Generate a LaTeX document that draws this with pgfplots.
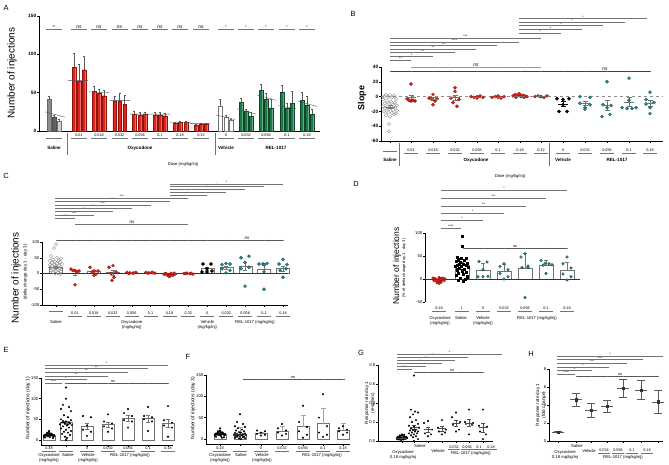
\documentclass[border=0pt]{standalone}
\usepackage{fontspec}
\setmainfont{Liberation Sans}
\usepackage{pgfplots}
\pgfplotsset{compat=1.18}

\definecolor{oxred}{RGB}{226,35,26}
\definecolor{oxredd}{RGB}{140,20,15}
\definecolor{relg}{RGB}{28,122,72}
\definecolor{relgd}{RGB}{15,70,40}
\definecolor{tealc}{RGB}{38,140,140}
\definecolor{teald}{RGB}{20,90,90}

\newcommand{\fs}[1]{\fontsize{#1}{#1}\selectfont}
% significance bracket: y, x1, x2, text (pixel coordinates, y downwards)
\newcommand{\sig}[4]{\draw[sigl] (#2,#1) -- (#3,#1); \node[sigt] at ({(#2+#3)/2},#1-0.2) {#4};}

\tikzset{
  px/.style={x=1bp, y=-1bp, yshift=465bp},
  lab/.style={inner sep=0pt, font=\fs{3.8}},
  glab/.style={inner sep=0pt, font=\fs{4.2}},
  sigl/.style={draw=black!55, line width=0.35bp},
  sigt/.style={inner sep=0pt, anchor=south, font=\fs{3.6}},
  ull/.style={draw=black!55, line width=0.35bp},
  sep/.style={draw=black!55, line width=0.4bp},
  ylab/.style={inner sep=0pt, rotate=90},
  plet/.style={inner sep=0pt, font=\fs{7.5}},
}

\pgfplotsset{
  pan/.style={scale only axis, clip=false, enlargelimits=false, anchor=south west,
    axis x line*=bottom, axis y line*=left, axis line style={line width=0.45bp,-},
    every tick/.style={line width=0.4bp, black}, major tick length=1.8bp, tick align=outside,
    tick label style={font=\fs{4.2}, inner sep=0.8bp},
    /pgf/number format/assume math mode=true, xticklabels={}},
  bA/.style={ybar, bar shift=0pt, bar width=3.4, line width=0.3bp,
    error bars/y dir=plus, error bars/y explicit,
    error bars/error bar style={line width=0.35bp, black!65},
    error bars/error mark options={rotate=90, black!65, mark size=1bp, line width=0.35bp}},
  bW/.style={ybar, bar shift=0pt, fill=white, draw=black!55, line width=0.4bp,
    error bars/y dir=both, error bars/y explicit,
    error bars/error bar style={line width=0.4bp, black!55},
    error bars/error mark options={rotate=90, black!55, mark size=2bp, line width=0.4bp}},
  bWp/.style={bW, error bars/y dir=plus},
  mn/.style={only marks, mark=-, mark size=5bp, mark options={line width=0.5bp},
    error bars/y dir=both, error bars/y explicit,
    error bars/error bar style={line width=0.5bp},
    error bars/error mark options={rotate=90, mark size=2.5bp, line width=0.5bp}},
  pO/.style={only marks, mark=o, mark size=1.7bp, mark options={draw=black!45, line width=0.35bp, fill=white}},
  pR/.style={only marks, mark=*, mark size=1.6bp, mark options={fill=oxred, draw=oxredd, line width=0.3bp}},
  pK/.style={only marks, mark=*, mark size=1.6bp, mark options={fill=black, draw=black}},
  pT/.style={only marks, mark=*, mark size=1.6bp, mark options={fill=tealc, draw=teald, line width=0.3bp}},
  pk/.style={only marks, mark=*, mark size=0.8bp, mark options={fill=black, draw=black}},
}

\begin{document}
\begin{tikzpicture}
\fill[white] (0,0) rectangle (669bp,465bp);
\path[use as bounding box] (0,0) rectangle (669bp,465bp);

% ================= A =================
\begin{axis}[pan, at={(39bp,334bp)}, width=281bp, height=115bp, xmin=39, xmax=320,
  ymin=0, ymax=150, ytick={0,50,100,150}, xtick=\empty,
  yticklabel style={font=\bfseries\fs{4.8}}]
\addplot[bA, fill=black!45, draw=black!60] coordinates {(49,41) +- (0,5)};
\addplot[bA, fill=black!62, draw=black!70] coordinates {(54,18) +- (0,2)};
\addplot[bA, fill=black!18, draw=black!55] coordinates {(59,13) +- (0,2)};
\addplot[bA, fill=oxred, draw=oxredd] coordinates {
  (74,83) +- (0,18) (94,52) +- (0,6) (114.5,39) +- (0,6) (134,22) +- (0,4)
  (155,21) +- (0,3) (175,10) +- (0,1.5) (196,8) +- (0,1.5)};
\addplot[bA, fill=oxred, draw=oxredd] coordinates {
  (79,65) +- (0,22) (99,49) +- (0,6) (119.5,39) +- (0,10) (140,21) +- (0,3)
  (160,21) +- (0,3) (180,11) +- (0,1.5) (201,9) +- (0,1.5)};
\addplot[bA, fill=oxred, draw=oxredd] coordinates {
  (84,80) +- (0,17) (104,46) +- (0,7) (124.5,35) +- (0,12) (145,22) +- (0,3)
  (165,20) +- (0,3) (186,11) +- (0,1.5) (206,9) +- (0,1.5)};
\addplot[bA, fill=white, draw=black!55] coordinates {(220,33) +- (0,8) (226,18) +- (0,2) (231,14) +- (0,2)};
\addplot[bA, fill=relg, draw=relgd] coordinates {(241,37) +- (0,6) (261,53) +- (0,8) (282,51) +- (0,9) (302,40) +- (0,10)};
\addplot[bA, fill=relg, draw=relgd] coordinates {(246,26) +- (0,2) (266,42) +- (0,7) (287,30) +- (0,6) (307,34) +- (0,12)};
\addplot[bA, fill=relg, draw=relgd] coordinates {(251,19) +- (0,5) (271,30) +- (0,11) (292,36) +- (0,16) (312,22) +- (0,6)};
% per-group trend lines
\addplot[black!70, line width=0.35bp, unbounded coords=jump] coordinates {
  (45,25) (65,18) (65,nan) (68,66) (88,66) (88,nan) (89,51) (109,50) (109,nan)
  (110,40) (130,40) (130,nan) (130,22) (150,22) (150,nan) (150,22) (170,22) (170,nan)
  (170,11) (191,11) (191,nan) (190,10) (210,10) (210,nan) (216,21) (235,15) (235,nan)
  (237,29) (256,22) (256,nan) (257,47) (276,40) (276,nan) (278,33) (296,29) (296,nan)
  (298,39) (317,32)};
\end{axis}
\begin{scope}[px]
\node[plet] at (6,8) {A};
\node[ylab, font=\fs{10}] at (12,73) {Number of injections};
\foreach \x/\t in {54/{**}, 226/{*}, 246/{*}, 266/{*}, 287/{*}, 307/{*}}
  {\node[sigt, font=\fs{4}] at (\x,28.5) {\t}; \draw[sigl] (\x-8,29) -- (\x+8,29);}
\foreach \x in {79,99,119.5,140,160,180,201}
  {\node[sigt, font=\itshape\fs{5}] at (\x,28.5) {ns}; \draw[sigl] (\x-8,29) -- (\x+8,29);}
\foreach \x/\t in {79/0.01, 99/0.018, 119.5/0.032, 140/0.056, 160/0.1, 180/0.18, 201/0.32,
  226/0, 246/0.032, 266/0.056, 287/0.1, 307/0.18}
  {\node[lab] at (\x,135) {\t}; \draw[ull] (\x-8,138) -- (\x+8,138);}
\draw[ull] (46,138) -- (62,138);
\draw[sep] (67,133) -- (67,155);
\draw[sep] (215,133) -- (215,155);
\node[glab, font=\bfseries\fs{4.6}] at (54,148) {Saline};
\node[glab, font=\bfseries\fs{4.6}] at (140,148) {Oxycodone};
\node[glab, font=\bfseries\fs{4.6}] at (226,148) {Vehicle};
\node[glab, font=\bfseries\fs{4.6}] at (276,148) {REL-1017};
\node[glab] at (183,164) {Dose (mg/kg/inj)};
\end{scope}

% ================= B =================
\begin{axis}[pan, at={(381bp,324bp)}, width=282bp, height=74bp, xmin=381, xmax=663,
  ymin=-60, ymax=40, ytick={-60,-40,-20,0,20,40},
  xtick={390,411,433,455,477,498,520,541,563,585,607,629,650},
  yticklabel style={font=\bfseries\fs{4.8}}]
\draw[black!45, dashed, line width=0.35bp] (axis cs:381,0) -- (axis cs:663,0);
\addplot[pO] coordinates {
  (386,2.5) (390,2) (394,1) (384,0) (388,-0.5) (392,-1) (396,-3) (383,-4) (387,-6) (391,-7)
  (395,-8) (385,-9) (389,-10) (393,-11) (397,-12) (383,-13) (387,-14) (391,-14) (395,-15)
  (385,-16) (389,-17) (393,-18) (397,-19) (384,-20) (388,-21) (392,-22) (396,-23) (386,-25)
  (390,-27) (394,-24) (389,-37) (389,-47)};
\addplot[pR] coordinates {
  (407,-3) (411,-6) (415,-6) (409,-5) (413,-5) (411,17)
  (433,3) (429,-2) (437,-3) (431,-3) (435,-6) (433,-11)
  (455,12) (455,7) (451,-2) (459,-4) (453,-8) (457,-13)
  (471,0) (474,-1) (477,-2) (480,1) (483,-1) (477,0)
  (492,-1) (495,0) (498,1) (501,-2) (504,0) (498,-1)
  (513,1) (515,3) (517,2) (519,4) (521,0) (523,2) (525,1) (527,0) (516,-1) (520,1) (524,-1) (520,3)
  (535,0) (538,1) (541,0) (544,-1) (547,1) (541,0)};
\addplot[pK] coordinates {(557,-3) (563,-4) (569,-3) (563,-11) (559,-20) (567,-20)};
\addplot[pT] coordinates {
  (580,0) (590,-1) (580,-9) (590,-11) (585,-15) (585,-17)
  (607,20) (603,-11) (611,-12) (607,-15) (602,-27) (610,-24)
  (629,25) (629,-5) (622,-15) (627,-16) (632,-16) (636,-15)
  (650,6) (646,-4) (654,-8) (646,-10) (650,-15) (650,-23)};
\addplot[mn, black!55] coordinates {
  (390,-14) +- (0,2) (411,-1.5) +- (0,3.8) (433,-3.5) +- (0,2) (455,-1.5) +- (0,3.8)
  (477,-0.5) +- (0,0.5) (498,-0.5) +- (0,0.5) (520,1) +- (0,0.5) (541,0) +- (0,0.3)
  (585,-9) +- (0,2.7) (607,-11.5) +- (0,6.5) (629,-7) +- (0,6.5) (650,-9) +- (0,4)};
\addplot[mn, black] coordinates {(563,-10) +- (0,3.2)};
\end{axis}
\begin{scope}[px]
\node[plet] at (353,14) {B};
\node[ylab, font=\bfseries\fs{9}] at (362,98) {Slope};
\sig{60}{390}{411}{**} \sig{56.5}{390}{433}{*} \sig{52.5}{390}{455}{**}
\sig{49}{390}{476}{**} \sig{45.5}{390}{497}{**} \sig{42}{390}{519}{****}
\sig{38}{390}{541}{***}
\sig{33}{519}{561}{*} \sig{29.5}{519}{582}{*} \sig{25.5}{519}{603}{*}
\sig{22}{519}{625}{*} \sig{18.5}{519}{647}{*}
\draw[black!75, line width=0.4bp] (390,71) -- (650,71);
\foreach \x in {390,411,433,455,477,498,520,541,563,585,607,629,650} {\draw[black!60, line width=0.3bp] (\x,71) -- (\x,72.5);}
\draw[black!40, line width=0.35bp] (411,67.5) -- (541,67.5);
\node[sigt, font=\itshape\fs{5}] at (476,66.8) {ns};
\node[sigt, font=\itshape\fs{5}] at (605,70.3) {ns};
\foreach \x/\t in {411/0.01, 433/0.018, 455/0.032, 477/0.056, 498/0.1, 520/0.18, 541/0.32,
  563/0, 585/0.032, 607/0.056, 629/0.1, 650/0.18}
  {\node[lab] at (\x,150) {\t}; \draw[ull] (\x-7,152.8) -- (\x+7,152.8);}
\draw[ull] (383,151.5) -- (397,151.5);
\draw[sep] (399,143) -- (399,166);
\draw[sep] (549,143) -- (549,166);
\node[glab, font=\bfseries\fs{4.6}] at (390,160) {Saline};
\node[glab, font=\bfseries\fs{4.6}] at (476,160) {Oxycodone};
\node[glab, font=\bfseries\fs{4.6}] at (563,160) {Vehicle};
\node[glab, font=\bfseries\fs{4.6}] at (617,160) {REL-1017};
\node[glab] at (510,176) {Dose (mg/kg/inj)};
\end{scope}

% ================= C =================
\begin{axis}[pan, at={(42bp,160bp)}, width=246bp, height=63bp, xmin=42, xmax=288,
  ymin=-100, ymax=100, ytick={-100,-50,0,50,100},
  xtick={56,74.9,93.8,112.8,131.7,150.6,169.5,188.4,207.3,226.3,245.2,264.1,283}]
\addplot[bW, bar width=13] coordinates {
  (56,20) +- (0,3) (74.9,2) +- (0,7) (93.8,6) +- (0,4) (112.8,3) +- (0,7)
  (131.7,2) +- (0,0.5) (150.6,2) +- (0,0.5) (169.5,-2) +- (0,1) (188.4,0) +- (0,0.5)
  (207.3,16) +- (0,5) (226.3,19) +- (0,5) (245.2,22) +- (0,13) (264.1,13) +- (0,13) (283,16) +- (0,8)};
\draw[black!80, line width=0.4bp] (axis cs:42,0) -- (axis cs:288,0);
\addplot[pO] coordinates {
  (56,93) (54,80) (51,55) (57,50) (61,47) (53,44) (59,42) (50,40) (55,38) (60,36) (52,34)
  (57,32) (62,30) (50,28) (54,27) (59,25) (52,24) (56,22) (61,20) (50,19) (55,17) (60,15)
  (53,14) (58,12) (51,10) (56,8) (61,6) (53,4) (58,2) (55,0) (60,-2)};
\addplot[pR] coordinates {
  (71,14) (75,10) (79,8) (73,9) (77,5) (75,-36)
  (90,20) (94,8) (98,8) (92,5) (96,-2) (94,-6)
  (113,25) (109,20) (116,5) (111,0) (114,-12) (112,-22)
  (127,3) (130,2) (133,1) (136,3) (129,0) (134,2)
  (146,3) (149,2) (152,4) (155,1) (148,1) (153,2)
  (164,-2) (166,0) (168,-5) (170,-8) (172,-3) (174,1) (165,-1) (167,-4) (171,0) (173,-6) (169,-10) (175,-2)
  (184,0) (187,1) (190,-1) (193,-2) (186,0) (191,1)};
\addplot[pK] coordinates {(203,30) (211,30) (207,15) (202,5) (207,5) (212,8)};
\addplot[pT] coordinates {
  (226,32) (222,28) (230,30) (222,15) (230,10) (226,2)
  (241,50) (249,55) (245,35) (241,15) (249,20) (245,-40)
  (259,30) (263,30) (267,32) (264,28) (264,5) (264,-50)
  (283,45) (279,30) (287,28) (280,10) (286,15) (283,-12)};
\end{axis}
\begin{scope}[px]
\node[plet] at (6,176) {C};
\node[ylab, font=\fs{10}] at (16,278) {Number of injections};
\node[ylab, font=\fs{4.5}] at (25.5,272) {(delta change day 1 - day 3)};
\sig{218}{55}{74.9}{****} \sig{214.7}{55}{93.8}{***} \sig{211.3}{55}{112.8}{***}
\sig{208}{55}{131.7}{***} \sig{204.7}{55}{150.6}{***} \sig{201.3}{55}{169.5}{***}
\sig{198}{55}{188.4}{***}
\sig{195}{169.5}{207.3}{*} \sig{192.2}{169.5}{226.3}{*} \sig{189.4}{169.5}{245.2}{*}
\sig{186.6}{169.5}{264.1}{*} \sig{183.8}{169.5}{283}{*}
\draw[black!55, line width=0.35bp] (74.9,224) -- (188.4,224);
\node[sigt, font=\itshape\fs{4.5}] at (132,223.3) {ns};
\draw[black!65, line width=0.4bp] (56,240) -- (283,240);
\foreach \x in {56,74.9,93.8,112.8,131.7,150.6,169.5,188.4,207.3,226.3,245.2,264.1,283} {\draw[black!50, line width=0.3bp] (\x,240) -- (\x,241.3);}
\node[sigt, font=\itshape\fs{4.5}] at (247,239.3) {ns};
\foreach \x/\t in {74.9/0.01, 93.8/0.018, 112.8/0.032, 131.7/0.056, 150.6/0.1, 169.5/0.18, 188.4/0.32,
  207.3/0, 226.3/0.032, 245.2/0.056, 264.1/0.1, 283/0.18}
  {\node[lab] at (\x,313) {\t}; \draw[ull] (\x-7,316) -- (\x+7,316);}
\draw[ull] (49,311) -- (63,311);
\node[glab] at (56,322) {Saline};
\node[glab] at (131.7,322) {Oxycodone};
\node[glab] at (131.7,327) {(mg/kg/inj)};
\node[glab] at (207.3,322) {Vehicle};
\node[glab] at (207.3,327) {(mg/kg/inj)};
\node[glab] at (255,322) {REL-1017 (mg/kg/inj)};
\end{scope}

% ================= D =================
\begin{axis}[pan, at={(425bp,163bp)}, width=155bp, height=69bp, xmin=425, xmax=580,
  ymin=-50, ymax=100, ytick={-50,0,50,100}, axis x line=none]
\addplot[bWp, bar width=14] coordinates {
  (462,29) +- (0,8) (483,19) +- (0,15) (504,17) +- (0,15) (525,23) +- (0,34) (546,31) +- (0,9) (567,19) +- (0,18)};
\draw[black!80, line width=0.4bp] (axis cs:425,0) -- (axis cs:580,0);
\addplot[pR, mark size=1.4bp] coordinates {
  (433,2) (435,0) (437,-2) (439,3) (441,1) (443,-1) (445,0) (434,-4) (436,-3) (438,-6)
  (440,-5) (442,-2) (444,-4) (439,-10) (437,-8) (441,-7) (435,1) (443,2) (439,0) (441,-1)};
\addplot[pK, mark=square*, mark size=1.1bp] coordinates {
  (462,93) (462,72) (457,48) (461,46) (466,45) (458,42) (464,40) (456,38) (460,36) (467,35)
  (459,33) (463,32) (457,30) (466,30) (461,28) (455,27) (468,25) (459,24) (464,22) (457,20)
  (462,18) (466,15) (458,12) (463,10) (456,8) (467,5) (460,2) (465,0) (458,-3) (463,-5)};
\addplot[pT, mark size=1.4bp] coordinates {
  (479,38) (487,37) (483,20) (478,5) (483,5) (488,6)
  (504,33) (500,27) (508,20) (500,12) (508,5) (504,0)
  (525,55) (521,48) (528,28) (522,25) (528,25) (525,-40)
  (541,40) (545,34) (549,33) (552,31) (543,30) (546,12)
  (567,48) (563,33) (571,24) (563,11) (571,5) (567,-2)};
\end{axis}
\begin{scope}[px]
\node[plet] at (356,184) {D};
\node[ylab, font=\fs{8.5}] at (397,266) {Number of injections};
\node[ylab, font=\fs{4}] at (404,268) {(\% of delta change day 1 - day 3)};
\sig{228}{441}{461}{****} \sig{220}{441}{483}{*} \sig{213}{441}{504}{*}
\sig{206}{441}{526}{**} \sig{198}{441}{546}{***} \sig{190}{441}{567}{*}
\draw[black!65, line width=0.4bp] (463,248) -- (567,248);
\foreach \x in {463,483,504,525,546,567} {\draw[black!50, line width=0.3bp] (\x,248) -- (\x,249.3);}
\node[sigt, font=\fs{3.8}] at (515,247.3) {ns};
\foreach \x/\t in {439/0.18, 462/1, 483/0, 504/0.032, 525/0.056, 546/0.1, 567/0.18}
  {\node[lab] at (\x,308) {\t}; \draw[ull] (\x-7,311) -- (\x+7,311);}
\node[glab] at (440,318) {Oxycodone};
\node[glab] at (440,323) {(mg/kg/inj)};
\node[glab] at (461,318) {Saline};
\node[glab] at (483,318) {Vehicle};
\node[glab] at (483,323) {(mg/kg/inj)};
\node[glab] at (537,318) {REL-1017 (mg/kg/inj)};
\end{scope}

% ================= E =================
\begin{axis}[pan, at={(41bp,20bp)}, width=132bp, height=67bp, xmin=41, xmax=173,
  ymin=-12, ymax=150, ytick={0,50,100,150}, xtick={49,66,87,108,128,148,168}]
\addplot[bW, bar width=12] coordinates {
  (49,12) +- (0,1) (66,42) +- (0,4) (87,34) +- (0,7) (108,38) +- (0,6) (128,53) +- (0,8) (148,52) +- (0,8) (168,41) +- (0,10)};
\addplot[pk] coordinates {
  (44,8) (46,10) (48,12) (50,14) (52,11) (54,9) (45,13) (47,15) (49,17) (51,12) (53,10) (44,11)
  (46,13) (48,9) (50,7) (52,14) (54,12) (47,18) (49,20) (51,16) (49,22) (45,6) (53,5) (49,10) (51,13)
  (66,127) (66,100) (63,85) (69,80) (61,75) (71,70) (64,60) (68,55) (61,50) (71,48) (63,46) (66,45)
  (69,43) (62,42) (70,40) (65,40) (60,38) (72,36) (67,35) (63,33) (69,30) (61,28) (66,25) (71,22)
  (64,20) (68,18) (62,15) (70,12) (65,8) (67,5) (66,0) (64,42) (68,38)
  (83,58) (91,55) (87,35) (83,25) (91,20) (87,10)
  (108,62) (104,45) (112,40) (104,33) (112,28) (108,20)
  (128,75) (124,65) (132,58) (124,48) (132,45) (128,30)
  (148,80) (144,58) (152,55) (144,50) (152,45) (148,22)
  (168,82) (164,48) (172,42) (164,35) (172,30) (168,8)};
\end{axis}
\begin{scope}[px]
\node[plet] at (6,350) {E};
\node[ylab, font=\fs{5}] at (28,408) {Number of injections (day 1)};
\sig{383}{45}{62}{****} \sig{379.5}{45}{87}{*} \sig{376}{45}{108}{**}
\sig{372}{45}{128}{**} \sig{368.5}{45}{148}{**} \sig{365}{45}{168}{*}
\draw[black!65, line width=0.4bp] (65,383) -- (168,383);
\foreach \x in {66,87,108,128,148,168} {\draw[black!50, line width=0.3bp] (\x,383) -- (\x,384.3);}
\node[sigt, font=\fs{3.8}] at (113,382.3) {ns};
\foreach \x/\t in {49/0.18, 87/0, 108/0.032, 128/0.056, 148/0.1, 168/0.18}
  {\node[lab] at (\x,448.5) {\t}; \draw[ull] (\x-7,451) -- (\x+7,451);}
\draw[ull] (59,451) -- (73,451);
\node[glab] at (49,455) {Oxycodone};
\node[glab] at (49,460) {(mg/kg/inj)};
\node[glab] at (68,455) {Saline};
\node[glab] at (88,455) {Vehicle};
\node[glab] at (88,460) {(mg/kg/inj)};
\node[glab] at (130,455) {REL-1017 (mg/kg/inj)};
\end{scope}

% ================= F =================
\begin{axis}[pan, at={(206bp,20.9bp)}, width=144bp, height=69.1bp, xmin=206, xmax=350,
  ymin=-12, ymax=150, ytick={0,50,100,150}, xtick={220,240,261,282,303,323,343}]
\addplot[bW, bar width=12, error bars/y dir=plus, error bars/error bar style={line width=0.4bp, black!35},
  error bars/error mark options={rotate=90, black!35, mark size=2.5bp, line width=0.4bp}] coordinates {
  (220,11) +- (0,5) (240,12) +- (0,15) (261,13) +- (0,3) (282,19) +- (0,11) (303,29) +- (0,26) (323,36) +- (0,37) (343,21) +- (0,17)};
\addplot[pk] coordinates {
  (215,8) (217,10) (219,12) (221,14) (223,11) (225,9) (216,13) (218,15) (220,17) (222,12) (224,10)
  (215,11) (217,13) (219,9) (221,7) (223,14) (225,12) (218,18) (220,20) (222,16) (220,25) (216,5)
  (224,4) (220,10) (222,3)
  (240,58) (237,40) (243,35) (235,30) (245,28) (238,25) (242,22) (236,20) (244,18) (239,16) (241,15)
  (235,14) (245,13) (237,12) (243,11) (240,10) (234,10) (246,9) (238,8) (242,8) (236,7) (244,6)
  (240,5) (237,5) (243,4) (235,3) (245,2) (239,1) (241,0) (240,15)
  (257,20) (265,18) (261,15) (257,12) (265,10) (261,8)
  (282,35) (278,25) (286,20) (278,15) (286,12) (282,8)
  (303,78) (299,40) (307,28) (299,18) (307,10) (303,3)
  (323,105) (319,50) (327,30) (319,15) (327,10) (323,5)
  (343,30) (339,25) (347,22) (339,18) (347,15) (343,10)};
\end{axis}
\begin{scope}[px]
\node[plet] at (188,357) {F};
\node[ylab, font=\fs{5}] at (193,408) {Number of injections (day 3)};
\draw[black!65, line width=0.4bp] (243,379) -- (345,379);
\foreach \x in {261,282,303,323,343} {\draw[black!50, line width=0.3bp] (\x,379) -- (\x,380.3);}
\node[sigt, font=\fs{3.8}] at (293,378.3) {ns};
\foreach \x/\t in {220/0.18, 261/0, 282/0.032, 303/0.056, 323/0.1, 343/0.18}
  {\node[lab] at (\x,448.5) {\t}; \draw[ull] (\x-7,451) -- (\x+7,451);}
\draw[ull] (233,451) -- (247,451);
\node[glab] at (220,455) {Oxycodone};
\node[glab] at (220,460) {(mg/kg/inj)};
\node[glab] at (241,455) {Saline};
\node[glab] at (262,455) {Vehicle};
\node[glab] at (262,460) {(mg/kg/inj)};
\node[glab] at (322,455) {REL-1017 (mg/kg/inj)};
\end{scope}

% ================= G =================
\begin{axis}[pan, at={(378bp,24bp)}, width=115bp, height=76bp, xmin=378, xmax=493,
  ymin=0, ymax=0.8, ytick={0,0.2,0.4,0.6,0.8}, xtick={402,414,428,442,456,469,483},
  yticklabel style={/pgf/number format/fixed, /pgf/number format/precision=1, /pgf/number format/fixed zerofill}]
\addplot[pk] coordinates {
  (397,0.02) (398,0.03) (399,0.04) (400,0.025) (401,0.035) (402,0.03) (403,0.02) (404,0.04)
  (405,0.03) (406,0.025) (407,0.035) (398,0.045) (400,0.05) (402,0.055) (404,0.05) (406,0.045)
  (399,0.015) (401,0.01) (403,0.015) (405,0.02) (402,0.07) (400,0.06) (404,0.065) (397,0.035) (407,0.03)
  (414,0.69) (411,0.33) (415,0.31) (418,0.30) (413,0.28) (410,0.25) (416,0.22) (412,0.20) (418,0.18)
  (409,0.16) (414,0.15) (419,0.14) (411,0.13) (416,0.12) (413,0.12) (410,0.11) (418,0.10) (415,0.10)
  (412,0.09) (409,0.08) (417,0.08) (414,0.07) (411,0.06) (416,0.05) (413,0.04) (418,0.02) (414,0.0)
  (428,0.21) (424,0.19) (432,0.12) (425,0.08) (431,0.07) (428,0.05)
  (442,0.22) (438,0.14) (446,0.12) (439,0.10) (445,0.09) (442,0.07)
  (456,0.30) (452,0.25) (460,0.20) (453,0.17) (459,0.12) (456,0.10)
  (469,0.33) (465,0.20) (473,0.19) (466,0.18) (472,0.17) (469,0.07)
  (483,0.33) (479,0.16) (487,0.15) (480,0.10) (486,0.07) (483,0.02)};
\addplot[mn, black!70, mark size=4bp, error bars/error mark options={rotate=90, mark size=2bp, line width=0.45bp}] coordinates {
  (402,0.03) +- (0,0.003) (414,0.14) +- (0,0.025) (428,0.12) +- (0,0.025) (442,0.13) +- (0,0.022)
  (456,0.19) +- (0,0.03) (469,0.19) +- (0,0.035) (483,0.14) +- (0,0.045)};
\end{axis}
\begin{scope}[px]
\node[plet] at (361,353) {G};
\node[ylab, font=\fs{4.6}] at (367,403) {Response rate day 1};
\node[ylab, font=\fs{4.6}] at (373,403) {(resp/sec)};
\sig{369}{397}{412}{****} \sig{366}{397}{426}{*} \sig{363}{397}{442}{*}
\sig{360}{397}{455}{***} \sig{357}{397}{468}{***} \sig{354}{397}{502}{*}
\draw[black!65, line width=0.4bp] (414,372) -- (483,372);
\foreach \x in {414,428,442,456,469,483} {\draw[black!50, line width=0.3bp] (\x,372) -- (\x,373.3);}
\node[sigt, font=\fs{3.8}] at (452,371.3) {ns};
\node[glab] at (403,452) {Oxycodone};
\node[glab] at (403,457.5) {0.18 mg/kg/inj};
\node[glab] at (420,446) {Saline};
\node[glab] at (438,451) {Vehicle};
\foreach \x/\t in {454/0.032, 467/0.056, 479/0.1, 491/0.18}
  {\node[lab] at (\x,447) {\t}; \draw[ull] (\x-6,449.5) -- (\x+6,449.5);}
\node[glab] at (471,453) {REL-1017 (mg/kg/inj)};
\end{scope}

% ================= H =================
\begin{axis}[pan, at={(549bp,24bp)}, width=114bp, height=72bp, xmin=549, xmax=663,
  ymin=0, ymax=8, ytick={0,2,4,6,8}, xtick={558,576,591,607,623,641,658}]
\addplot[mn, black!65, mark size=6bp, error bars/error mark options={rotate=90, mark size=4bp, line width=0.5bp}] coordinates {
  (558,1.0) +- (0,0.05) (576,4.6) +- (0,0.7) (591,3.45) +- (0,0.8) (607,3.85) +- (0,0.7)
  (623,5.9) +- (0,1.0) (641,5.65) +- (0,1.05) (658,4.35) +- (0,1.25)};
\addplot[only marks, mark=square*, mark size=1.2bp, black!80] coordinates {
  (558,1.0) (576,4.6) (591,3.45) (607,3.85) (623,5.9) (641,5.65) (658,4.35)};
\end{axis}
\begin{scope}[px]
\node[plet] at (531,354) {H};
\node[ylab, font=\fs{4.6}] at (538,405) {Response rate day 1};
\node[ylab, font=\fs{4.6}] at (544,405) {(fold change)};
\sig{374}{557}{575}{****} \sig{370.5}{557}{592}{*} \sig{367}{557}{609}{*}
\sig{363}{557}{627}{***} \sig{359.5}{557}{643}{***} \sig{356}{557}{663}{*}
\draw[black!65, line width=0.4bp] (576,376) -- (658,376);
\foreach \x in {576,591,607,623,641,658} {\draw[black!50, line width=0.3bp] (\x,376) -- (\x,377.3);}
\node[sigt, font=\fs{3.8}] at (620,375.3) {ns};
\node[glab] at (565,452) {Oxycodone};
\node[glab] at (565,457.5) {0.18 mg/kg/inj};
\node[glab] at (577,446) {Saline};
\node[glab] at (589,451) {Vehicle};
\foreach \x/\t in {604/0.032, 618/0.056, 632/0.1, 647/0.18}
  {\node[lab] at (\x,450.5) {\t}; \draw[ull] (\x-6,453) -- (\x+6,453);}
\node[glab] at (623,457.5) {REL-1017 (mg/kg/inj)};
\end{scope}
\end{tikzpicture}
\end{document}
